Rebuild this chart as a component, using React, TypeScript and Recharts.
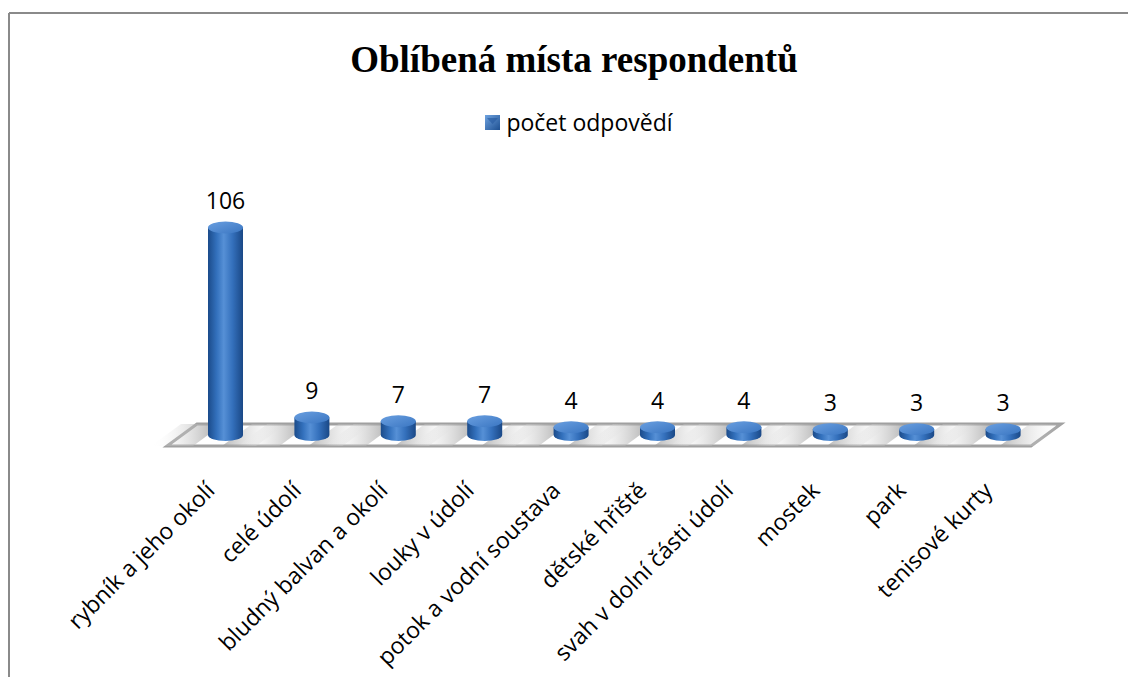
import * as React from 'react';
import { BarChart, Bar, XAxis, YAxis, ReferenceArea, LabelList, Legend } from 'recharts';

const categories = [
  'rybník a jeho okolí',
  'celé údolí',
  'bludný balvan a okolí',
  'louky v údolí',
  'potok a vodní soustava',
  'dětské hřiště',
  'svah v dolní části údolí',
  'mostek',
  'park',
  'tenisové kurty',
];
const counts = [106, 9, 7, 7, 4, 4, 4, 3, 3, 3];
const seriesName = 'počet odpovědí';
const chartTitle = 'Oblíbená místa respondentů';

const data = categories.map((name, i) => ({ name, value: counts[i] }));

const FONT = '"Open Sans", "Noto Sans", sans-serif';
const FLOOR_HALF = 11;
const FLOOR_SLANT = 15;

const Cylinder = (props: any) => {
  const { x, y, width, height } = props;
  if (!width) return null;
  const rx = width / 2;
  const ry = 6;
  const cx = x + rx;
  const base = y + height;
  const top = y;
  // soft shadows lying on the floor, left and right of the cylinder
  const sl = `M${x - 42 + FLOOR_SLANT},${base - FLOOR_HALF} L${x + FLOOR_SLANT},${base - FLOOR_HALF} L${x - FLOOR_SLANT},${base + FLOOR_HALF} L${x - 42 - FLOOR_SLANT},${base + FLOOR_HALF} Z`;
  const sr = `M${x + width + FLOOR_SLANT - 6},${base - FLOOR_HALF} L${x + width + 28 + FLOOR_SLANT},${base - FLOOR_HALF} L${x + width + 28 - FLOOR_SLANT},${base + FLOOR_HALF} L${x + width - FLOOR_SLANT - 6},${base + FLOOR_HALF} Z`;
  return (
    <g>
      <path d={sl} fill="url(#shadowLeft)" />
      <path d={sr} fill="url(#shadowRight)" />
      <path
        d={`M${x},${top} L${x},${base} A${rx},${ry} 0 0 0 ${x + width},${base} L${x + width},${top} Z`}
        fill="url(#cylBody)"
      />
      <ellipse cx={cx} cy={top} rx={rx} ry={ry} fill="url(#cylTop)" />
    </g>
  );
};

const Floor = (props: any) => {
  const { x, y, width, height } = props;
  const b = y + height;
  const l = x;
  const r = x + width;
  const d = `M${l + FLOOR_SLANT},${b - FLOOR_HALF} L${r + FLOOR_SLANT},${b - FLOOR_HALF} L${r - FLOOR_SLANT},${b + FLOOR_HALF} L${l - FLOOR_SLANT},${b + FLOOR_HALF} Z`;
  return (
    <g>
      <path d={d} fill="#ffffff" stroke="#a0a0a0" strokeWidth={3} strokeLinejoin="miter" />
    </g>
  );
};

const CategoryTick = (props: any) => {
  const { x, y, payload } = props;
  const ax = x - 9;
  const ay = y + 49;
  return (
    <text
      x={ax}
      y={ay}
      transform={`rotate(-45 ${ax} ${ay})`}
      textAnchor="end"
      fontSize={23}
      fontFamily={FONT}
      fill="#000"
    >
      {payload.value}
    </text>
  );
};

const LegendContent = () => (
  <div
    style={{
      display: 'flex',
      alignItems: 'center',
      justifyContent: 'center',
      paddingLeft: 30,
      fontFamily: FONT,
      fontSize: 23,
      color: '#000',
    }}
  >
    <svg width={15} height={15} style={{ marginRight: 6 }}>
      <defs>
        <linearGradient id="legIcon" x1="0" y1="0" x2="1" y2="1">
          <stop offset="0%" stopColor="#6fa3e0" />
          <stop offset="100%" stopColor="#1d4f91" />
        </linearGradient>
      </defs>
      <rect x={0} y={0} width={15} height={15} fill="url(#legIcon)" />
      <path d="M2,3 L13,3 L7.5,9 Z" fill="#24599e" opacity={0.6} />
    </svg>
    <span>{seriesName}</span>
  </div>
);

export default function App() {
  return (
    <div
      style={{
        position: 'fixed',
        left: 0,
        top: 0,
        width: 1128,
        height: 677,
        overflow: 'hidden',
        background: '#fff',
      }}
    >
      <svg width={1128} height={677} style={{ position: 'absolute', left: 0, top: 0 }}>
        <line x1={9} y1={13} x2={1128} y2={13} stroke="#8a8a8a" strokeWidth={2} />
        <line x1={9} y1={13} x2={9} y2={677} stroke="#8a8a8a" strokeWidth={2} />
        <text
          x={574}
          y={72}
          textAnchor="middle"
          fontFamily='"Liberation Serif", "Times New Roman", serif'
          fontWeight="bold"
          fontSize={37}
          fill="#000"
        >
          {chartTitle}
        </text>
      </svg>
      <div style={{ position: 'absolute', left: 0, top: 0 }}>
        <BarChart
          width={1128}
          height={677}
          data={data}
          margin={{ top: 168, right: 82, bottom: 42, left: 182 }}
        >
          <defs>
            <linearGradient id="cylBody" x1="0" y1="0" x2="1" y2="0">
              <stop offset="0%" stopColor="#1b4b8a" />
              <stop offset="25%" stopColor="#3371bd" />
              <stop offset="45%" stopColor="#5690d6" />
              <stop offset="70%" stopColor="#3470bc" />
              <stop offset="100%" stopColor="#1a4886" />
            </linearGradient>
            <linearGradient id="cylTop" x1="0" y1="0" x2="1" y2="1">
              <stop offset="0%" stopColor="#6a9fe0" />
              <stop offset="100%" stopColor="#3a76c2" />
            </linearGradient>
            <linearGradient id="shadowLeft" x1="0" y1="0" x2="1" y2="0">
              <stop offset="0%" stopColor="#ffffff" stopOpacity={0} />
              <stop offset="100%" stopColor="#8c8c8c" stopOpacity={0.85} />
            </linearGradient>
            <linearGradient id="shadowRight" x1="0" y1="0" x2="1" y2="0">
              <stop offset="0%" stopColor="#9a9a9a" stopOpacity={0.7} />
              <stop offset="100%" stopColor="#ffffff" stopOpacity={0} />
            </linearGradient>
          </defs>
          <XAxis
            dataKey="name"
            interval={0}
            height={200}
            axisLine={false}
            tickLine={false}
            tick={<CategoryTick />}
          />
          <YAxis hide domain={[0, 120]} />
          <Legend verticalAlign="top" content={<LegendContent />} wrapperStyle={{ top: 106, left: 0, width: 1128 }} />
          <ReferenceArea
            x1={categories[0]}
            x2={categories[categories.length - 1]}
            ifOverflow="visible"
            shape={<Floor />}
          />
          <Bar
            dataKey="value"
            name={seriesName}
            barSize={35}
            shape={<Cylinder />}
            isAnimationActive={false}
          >
            <LabelList
              dataKey="value"
              position="top"
              offset={18}
              fontSize={23}
              fontFamily={FONT}
              fill="#000"
            />
          </Bar>
        </BarChart>
      </div>
    </div>
  );
}
